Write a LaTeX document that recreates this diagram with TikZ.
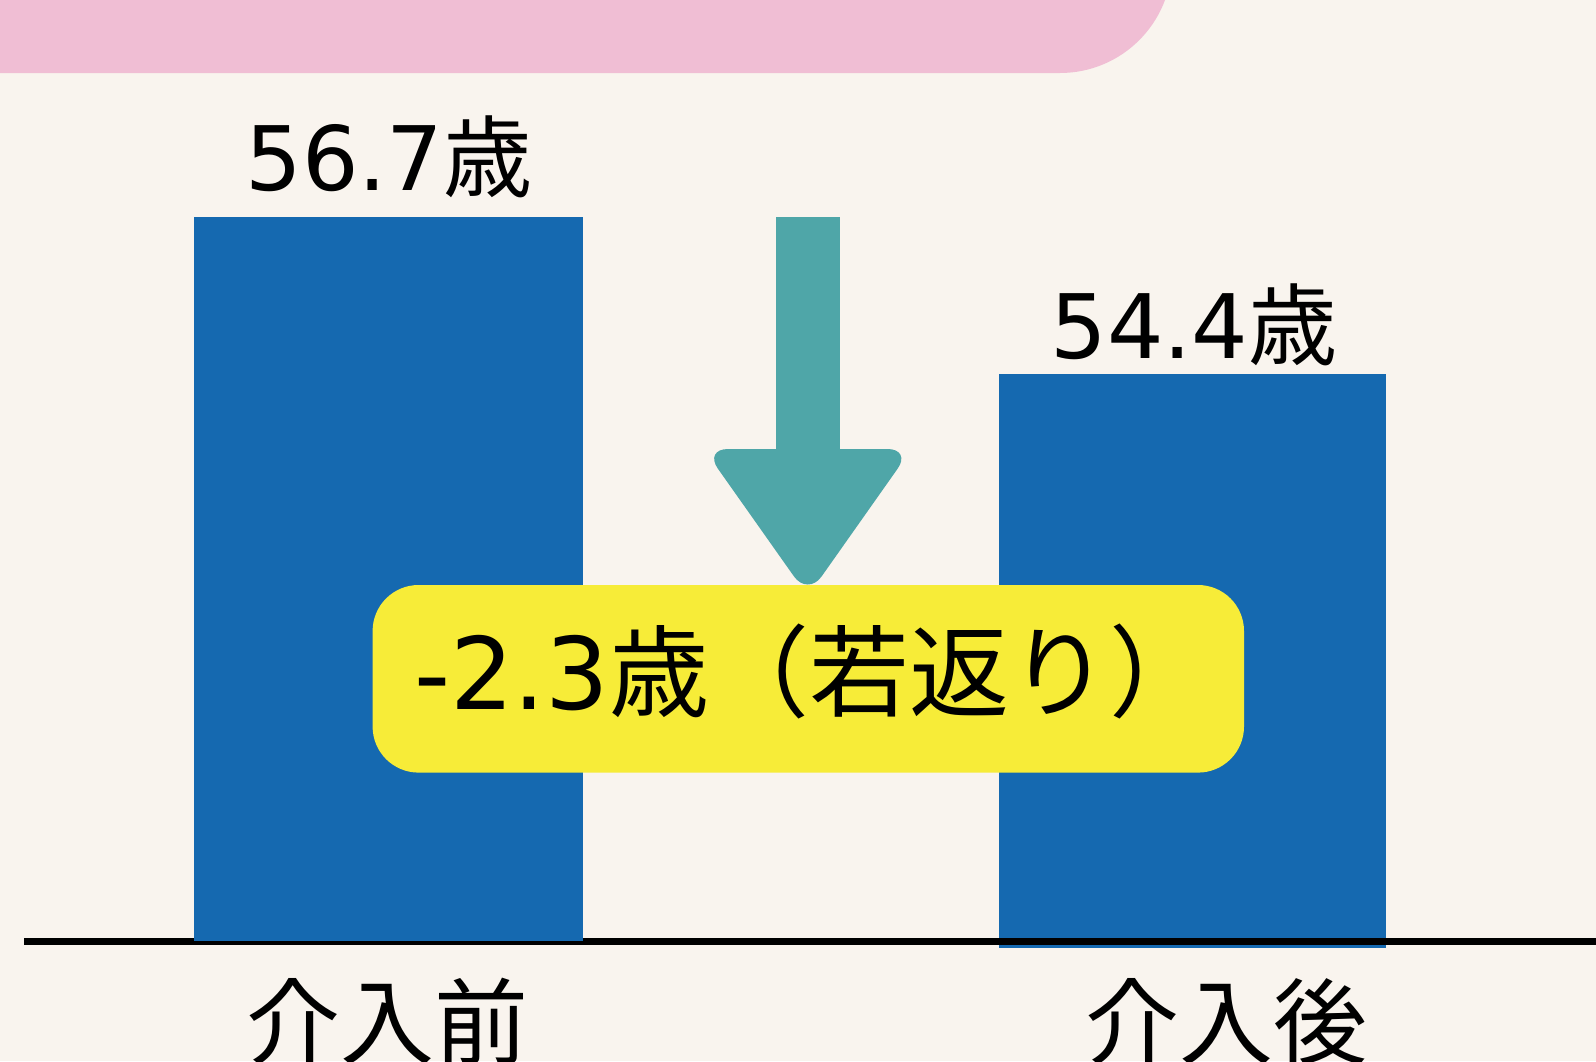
\documentclass[tikz,border=0pt]{standalone}
\usepackage{fontspec}
\newfontfamily\jp{Noto Sans CJK JP}
\newfontfamily\lat{DejaVu Sans}
\definecolor{bgcream}{HTML}{F9F4EE}
\definecolor{pinkband}{HTML}{F0BED4}
\definecolor{barblue}{HTML}{1569B0}
\definecolor{arrowteal}{HTML}{4FA6A8}
\definecolor{labelyellow}{HTML}{F7EC38}
\tikzset{
  bar/.style={fill=barblue, draw=none},
  val/.style={font=\jp\fontsize{89}{110}\selectfont, inner sep=0pt, anchor=base},
  cat/.style={font=\jp\fontsize{94}{110}\selectfont, inner sep=0pt, anchor=base},
  big/.style={font=\jp\fontsize{100}{120}\selectfont, inner sep=0pt, anchor=base west},
}
\begin{document}
\begin{tikzpicture}[x=1pt,y=-1pt]
\useasboundingbox (0,0) rectangle (1596,1061);
\clip (0,0) rectangle (1596,1061);
\fill[bgcream] (0,0) rectangle (1596,1061);
% pink band
\fill[pinkband, rounded corners=112pt] (-200,-300) rectangle (1172,73);
% right bar (under axis)
\fill[bar] (998.5,373.5) rectangle (1386,948);
% axis
\draw[line width=7pt] (24,941) coordinate (axl) -- (1600,941) coordinate (axr);
% left bar
\fill[bar] (194,217) rectangle (583,941);
% arrow
\fill[arrowteal] (775.6,217) rectangle (839.8,452);
\fill[arrowteal, rounded corners=24pt] (704,449) -- (911.5,449) -- (807.8,596) -- cycle;
% yellow box
\fill[labelyellow, rounded corners=46pt] (372.6,585) rectangle (1244,772.6);
% texts
\node[val] (v1) at (389,190) {{\lat 56.7}歳};
\node[val] (v2) at (1194,358) {{\lat 54.4}歳};
\node[big] (diff) at (414,709.5) {{\lat -2.3}歳（若返り）};
\node[cat] (c1) at (387,1057) {介入前};
\node[cat] (c2) at (1226.6,1057) {介入後};
\end{tikzpicture}
\end{document}
